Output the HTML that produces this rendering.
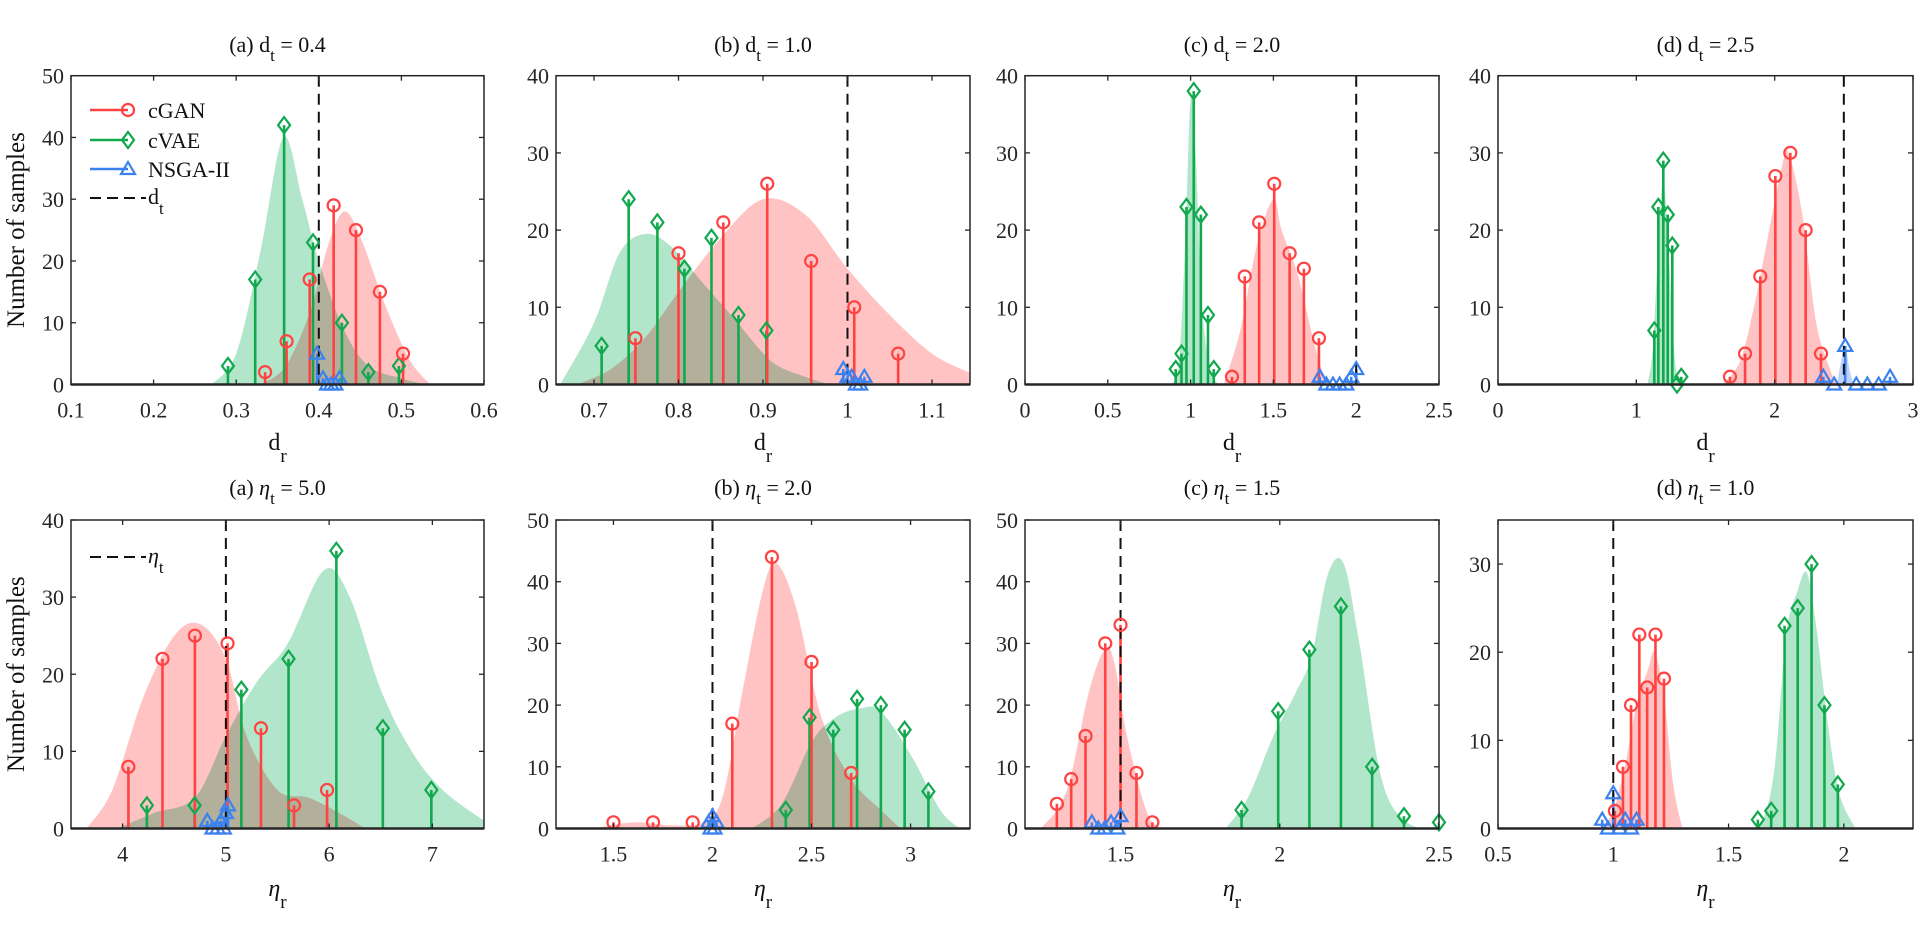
<!DOCTYPE html>
<html><head><meta charset="utf-8"><style>
html,body{margin:0;padding:0;background:#fff;}
svg{display:block;font-family:"Liberation Serif",serif;}
</style></head><body>
<svg id="fig" width="1926" height="935" viewBox="0 0 1926 935" xmlns="http://www.w3.org/2000/svg"></svg>
<script>
// ---------------- DATA ----------------
// Panel top-a (d_t = 0.4)
const ta_ganX=[0.335,0.361,0.389,0.418,0.445,0.474,0.502];
const ta_ganY=[2,7,17,29,25,15,5];
const ta_vaeX=[0.29,0.323,0.358,0.393,0.428,0.46,0.497];
const ta_vaeY=[3,17,42,23,10,2,3];
const ta_nsX=[0.398,0.405,0.41,0.415,0.42,0.425];
const ta_nsY=[5,1,0,0,0,1];
const ta_ganDX=[0.33,0.36,0.39,0.41,0.43,0.45,0.48,0.51,0.535];
const ta_ganDY=[0,3,12,22,28,24,13,4,0];
const ta_vaeDX=[0.27,0.30,0.33,0.357,0.38,0.40,0.43,0.46,0.50,0.53];
const ta_vaeDY=[0,5,22,40,30,20,9,3,1,0];
// Panel top-b (d_t = 1.0)
const tb_ganX=[0.749,0.80,0.853,0.905,0.957,1.008,1.06];
const tb_ganY=[6,17,21,26,16,10,4];
const tb_vaeX=[0.709,0.741,0.775,0.807,0.839,0.871,0.904];
const tb_vaeY=[5,24,21,15,19,9,7];
const tb_nsX=[0.995,1.0,1.005,1.01,1.015,1.02];
const tb_nsY=[2,1,1,0,0,1];
const tb_ganDX=[0.68,0.72,0.76,0.80,0.85,0.90,0.95,1.0,1.05,1.10,1.145];
const tb_ganDY=[0,2,6,12,19,24,22,15,9,4,1.5];
const tb_vaeDX=[0.66,0.70,0.73,0.76,0.79,0.83,0.87,0.91,0.95,0.98];
const tb_vaeDY=[0,8,17,19.5,18,13,8,3,1,0];
// Panel top-c (d_t = 2.0)
const tc_ganX=[1.25,1.327,1.414,1.505,1.598,1.684,1.775];
const tc_ganY=[1,14,21,26,17,15,6];
const tc_vaeX=[0.91,0.945,0.975,1.019,1.062,1.105,1.14];
const tc_vaeY=[2,4,23,38,22,9,2];
const tc_nsX=[1.78,1.82,1.86,1.9,1.94,1.97,2.0];
const tc_nsY=[1,0,0,0,0,1,2];
const tc_ganDX=[1.2,1.3,1.4,1.5,1.55,1.65,1.75,1.82];
const tc_ganDY=[0,7,18,24,20,14,5,0];
const tc_vaeDX=[0.88,0.93,0.97,1.0,1.03,1.07,1.12,1.17];
const tc_vaeDY=[0,3,20,37,30,10,2,0];
// Panel top-d (d_t = 2.5)
const td_ganX=[1.677,1.786,1.896,2.005,2.113,2.224,2.335];
const td_ganY=[1,4,14,27,30,20,4];
const td_vaeX=[1.13,1.159,1.195,1.227,1.26,1.294,1.325];
const td_vaeY=[7,23,29,22,18,0,1];
const td_nsX=[2.352,2.43,2.51,2.59,2.67,2.752,2.834];
const td_nsY=[1,0,5,0,0,0,1];
const td_ganDX=[1.62,1.75,1.85,1.95,2.05,2.1,2.2,2.3,2.4,2.45];
const td_ganDY=[0,3,10,19,28,30,22,8,2,0];
const td_vaeDX=[1.08,1.12,1.17,1.2,1.24,1.28,1.32];
const td_vaeDY=[0,5,22,26,15,3,0];
const td_nsDX=[2.45,2.48,2.51,2.54,2.57];
const td_nsDY=[0,3,5,2,0];
// Panel bottom-a (eta_t = 5.0)
const ba_ganX=[4.056,4.386,4.70,5.016,5.34,5.66,5.98];
const ba_ganY=[8,22,25,24,13,3,5];
const ba_vaeX=[4.235,4.697,5.15,5.607,6.07,6.52,6.99];
const ba_vaeY=[3,3,18,22,36,13,5];
const ba_nsX=[4.82,4.87,4.92,4.95,4.98,5.0,5.02];
const ba_nsY=[1,0,0,1,0,2,3];
const ba_ganDX=[3.65,3.9,4.2,4.5,4.75,5.0,5.2,5.5,5.8,6.1,6.35];
const ba_ganDY=[0,5,17,25,26.5,22,12,5,4,2,0];
const ba_vaeDX=[3.95,4.3,4.7,5.0,5.3,5.6,5.95,6.2,6.5,6.8,7.1,7.5];
const ba_vaeDY=[0,2,4,12,19,24,33.5,30,18,10,5,1];
// Panel bottom-b (eta_t = 2.0)
const bb_ganX=[1.5,1.7,1.9,2.1,2.3,2.5,2.7];
const bb_ganY=[1,1,1,17,44,27,9];
const bb_vaeX=[2.37,2.49,2.61,2.73,2.85,2.97,3.09];
const bb_vaeY=[3,18,16,21,20,16,6];
const bb_nsX=[1.98,1.99,2.0,2.01,2.02];
const bb_nsY=[1,0,2,0,1];
const bb_ganDX=[1.4,1.6,1.8,1.95,2.05,2.15,2.25,2.32,2.42,2.55,2.7,2.85,2.95];
const bb_ganDY=[0,1,0.5,1,5,22,38,43,36,18,8,3,0];
const bb_vaeDX=[2.2,2.35,2.5,2.62,2.75,2.85,3.0,3.15,3.25];
const bb_vaeDY=[0,4,14,18,19.5,19,12,3,0];
// Panel bottom-c (eta_t = 1.5)
const bc_ganX=[1.30,1.345,1.39,1.452,1.50,1.55,1.60];
const bc_ganY=[4,8,15,30,33,9,1];
const bc_vaeX=[1.88,1.995,2.093,2.192,2.29,2.39,2.5];
const bc_vaeY=[3,19,29,36,10,2,1];
const bc_nsX=[1.41,1.43,1.45,1.47,1.49,1.5];
const bc_nsY=[1,0,0,1,0,2];
const bc_ganDX=[1.25,1.33,1.4,1.45,1.48,1.52,1.58,1.62];
const bc_ganDY=[0,6,22,29,27,15,3,0];
const bc_vaeDX=[1.83,1.9,1.98,2.05,2.1,2.15,2.2,2.25,2.32,2.4,2.5];
const bc_vaeDY=[0,5,15,22,28,41,43,30,8,1,0];
// Panel bottom-d (eta_t = 1.0)
const bd_ganX=[1.007,1.042,1.077,1.113,1.147,1.183,1.22];
const bd_ganY=[2,7,14,22,16,22,17];
const bd_vaeX=[1.627,1.685,1.743,1.80,1.86,1.916,1.974];
const bd_vaeY=[1,2,23,25,30,14,5];
const bd_nsX=[0.952,0.977,1.0,1.027,1.052,1.077,1.101];
const bd_nsY=[1,0,4,0,1,0,1];
const bd_ganDX=[0.95,1.0,1.05,1.1,1.15,1.18,1.22,1.26,1.3];
const bd_ganDY=[0,2,7,14,18,20,15,5,0];
const bd_vaeDX=[1.6,1.65,1.7,1.75,1.8,1.84,1.88,1.93,1.98,2.05];
const bd_vaeDY=[0,1,7,22,27,29,23,12,4,0];
// Ticks
const ta_xt=[0.1,0.2,0.3,0.4,0.5,0.6], ta_xl=["0.1","0.2","0.3","0.4","0.5","0.6"];
const tb_xt=[0.7,0.8,0.9,1.0,1.1], tb_xl=["0.7","0.8","0.9","1","1.1"];
const tc_xt=[0,0.5,1,1.5,2,2.5], tc_xl=["0","0.5","1","1.5","2","2.5"];
const td_xt=[0,1,2,3], td_xl=["0","1","2","3"];
const ba_xt=[4,5,6,7], ba_xl=["4","5","6","7"];
const bb_xt=[1.5,2,2.5,3], bb_xl=["1.5","2","2.5","3"];
const bc_xt=[1.5,2,2.5], bc_xl=["1.5","2","2.5"];
const bd_xt=[0.5,1,1.5,2], bd_xl=["0.5","1","1.5","2"];
const y50=[0,10,20,30,40,50], y40=[0,10,20,30,40], y30=[0,10,20,30];
const targets=[0.4,1.0,2.0,2.5,5.0,2.0,1.5,1.0];
const titleVals=["0.4","1.0","2.0","2.5","5.0","2.0","1.5","1.0"];

// ---------------- RENDER ----------------
const NS="http://www.w3.org/2000/svg";
const svg=document.getElementById('fig');
function mk(tag,attrs,parent){const e=document.createElementNS(NS,tag);for(const k in attrs)e.setAttribute(k,attrs[k]);(parent||svg).appendChild(e);return e;}
const RED="#ff4242",GREEN="#12a84e",BLUE="#3b82f0";
const panels=[
 {id:"top-a",x0:71,x1:484,y0:75.7,y1:384.5,xmin:0.1,xmax:0.6,ymax:50,xt:ta_xt,xl:ta_xl,yt:y50,d:"ta",sym:"d",row:0,letter:"a"},
 {id:"top-b",x0:556,x1:970,y0:75.7,y1:384.5,xmin:0.655,xmax:1.145,ymax:40,xt:tb_xt,xl:tb_xl,yt:y40,d:"tb",sym:"d",row:0,letter:"b"},
 {id:"top-c",x0:1025,x1:1439,y0:75.7,y1:384.5,xmin:0,xmax:2.5,ymax:40,xt:tc_xt,xl:tc_xl,yt:y40,d:"tc",sym:"d",row:0,letter:"c"},
 {id:"top-d",x0:1498,x1:1913,y0:75.7,y1:384.5,xmin:0,xmax:3,ymax:40,xt:td_xt,xl:td_xl,yt:y40,d:"td",sym:"d",row:0,letter:"d"},
 {id:"bottom-a",x0:71,x1:484,y0:520,y1:828.5,xmin:3.5,xmax:7.5,ymax:40,xt:ba_xt,xl:ba_xl,yt:y40,d:"ba",sym:"eta",row:1,letter:"a"},
 {id:"bottom-b",x0:556,x1:970,y0:520,y1:828.5,xmin:1.21,xmax:3.3,ymax:50,xt:bb_xt,xl:bb_xl,yt:y50,d:"bb",sym:"eta",row:1,letter:"b"},
 {id:"bottom-c",x0:1025,x1:1439,y0:520,y1:828.5,xmin:1.2,xmax:2.5,ymax:50,xt:bc_xt,xl:bc_xl,yt:y50,d:"bc",sym:"eta",row:1,letter:"c"},
 {id:"bottom-d",x0:1498,x1:1913,y0:520,y1:828.5,xmin:0.5,xmax:2.3,ymax:35,xt:bd_xt,xl:bd_xl,yt:y30,d:"bd",sym:"eta",row:1,letter:"d"}
];
const DATA={
 ta:{gx:ta_ganX,gy:ta_ganY,vx:ta_vaeX,vy:ta_vaeY,nx:ta_nsX,ny:ta_nsY,gdx:ta_ganDX,gdy:ta_ganDY,vdx:ta_vaeDX,vdy:ta_vaeDY},
 tb:{gx:tb_ganX,gy:tb_ganY,vx:tb_vaeX,vy:tb_vaeY,nx:tb_nsX,ny:tb_nsY,gdx:tb_ganDX,gdy:tb_ganDY,vdx:tb_vaeDX,vdy:tb_vaeDY},
 tc:{gx:tc_ganX,gy:tc_ganY,vx:tc_vaeX,vy:tc_vaeY,nx:tc_nsX,ny:tc_nsY,gdx:tc_ganDX,gdy:tc_ganDY,vdx:tc_vaeDX,vdy:tc_vaeDY},
 td:{gx:td_ganX,gy:td_ganY,vx:td_vaeX,vy:td_vaeY,nx:td_nsX,ny:td_nsY,gdx:td_ganDX,gdy:td_ganDY,vdx:td_vaeDX,vdy:td_vaeDY,ndx:td_nsDX,ndy:td_nsDY},
 ba:{gx:ba_ganX,gy:ba_ganY,vx:ba_vaeX,vy:ba_vaeY,nx:ba_nsX,ny:ba_nsY,gdx:ba_ganDX,gdy:ba_ganDY,vdx:ba_vaeDX,vdy:ba_vaeDY},
 bb:{gx:bb_ganX,gy:bb_ganY,vx:bb_vaeX,vy:bb_vaeY,nx:bb_nsX,ny:bb_nsY,gdx:bb_ganDX,gdy:bb_ganDY,vdx:bb_vaeDX,vdy:bb_vaeDY},
 bc:{gx:bc_ganX,gy:bc_ganY,vx:bc_vaeX,vy:bc_vaeY,nx:bc_nsX,ny:bc_nsY,gdx:bc_ganDX,gdy:bc_ganDY,vdx:bc_vaeDX,vdy:bc_vaeDY},
 bd:{gx:bd_ganX,gy:bd_ganY,vx:bd_vaeX,vy:bd_vaeY,nx:bd_nsX,ny:bd_nsY,gdx:bd_ganDX,gdy:bd_ganDY,vdx:bd_vaeDX,vdy:bd_vaeDY}
};
function smoothPath(pts){
 let d="M"+pts[0][0]+","+pts[0][1];
 for(let i=0;i<pts.length-1;i++){
  const p0=pts[i-1]||pts[i],p1=pts[i],p2=pts[i+1],p3=pts[i+2]||p2;
  const c1=[p1[0]+(p2[0]-p0[0])/6,p1[1]+(p2[1]-p0[1])/6];
  const c2=[p2[0]-(p3[0]-p1[0])/6,p2[1]-(p3[1]-p1[1])/6];
  d+=" C"+c1[0]+","+c1[1]+" "+c2[0]+","+c2[1]+" "+p2[0]+","+p2[1];
 }
 return d;
}
function marker(kind,x,y,color,g){
 let e;
 if(kind==="o") e=mk('circle',{cx:x,cy:y,r:6,fill:"none",stroke:color,"stroke-width":2.2},g);
 else if(kind==="d") e=mk('path',{d:`M${x},${y-8} L${x+6},${y} L${x},${y+8} L${x-6},${y} Z`,fill:"none",stroke:color,"stroke-width":2.2},g);
 else e=mk('path',{d:`M${x},${y-7} L${x+7},${y+5} L${x-7},${y+5} Z`,fill:"none",stroke:color,"stroke-width":2.2},g);
 return e;
}
panels.forEach((p,pi)=>{
 const D=DATA[p.d];
 const sx=v=>p.x0+(v-p.xmin)/(p.xmax-p.xmin)*(p.x1-p.x0);
 const sy=v=>p.y1-v/p.ymax*(p.y1-p.y0);
 const g=mk('g',{});
 
 
 const cp='clip'+pi;
 const defs=mk('defs',{},g);
 mk('rect',{x:p.x0,y:p.y0,width:p.x1-p.x0,height:p.y1-p.y0},mk('clipPath',{id:cp},defs));
 const plot=mk('g',{"clip-path":`url(#${cp})`},g);
 function fillArea(xs,ys,color,name){
  const pts=xs.map((x,i)=>[sx(x),sy(ys[i])]);
  let d=smoothPath(pts)+` L${sx(xs[xs.length-1])},${p.y1} L${sx(xs[0])},${p.y1} Z`;
  const e=mk('path',{d:d,fill:color,style:"mix-blend-mode:multiply"},plot);
  
  
 }
 fillArea(D.gdx,D.gdy,"#ffc3c3","cgan-density-"+p.id);
 fillArea(D.vdx,D.vdy,"#b2e6cb","cvae-density-"+p.id);
 if(D.ndx) fillArea(D.ndx,D.ndy,"#bcd4fb","nsga-density-"+p.id);
 function stems(xs,ys,color,kind,name){
  xs.forEach((x,i)=>{
   const X=sx(x),Y=sy(ys[i]);
   const l=mk('line',{x1:X,y1:p.y1,x2:X,y2:Y,stroke:color,"stroke-width":2.6},plot);
   
   
   const m=marker(kind,X,Y,color,g);
   
   
  });
 }
 stems(D.vx,D.vy,GREEN,"d","cvae-"+p.id);
 stems(D.gx,D.gy,RED,"o","cgan-"+p.id);
 stems(D.nx,D.ny,BLUE,"t","nsga-"+p.id);
 const tl=mk('line',{x1:sx(targets[pi]),y1:p.y0,x2:sx(targets[pi]),y2:p.y1,stroke:"#111","stroke-width":2,"stroke-dasharray":"11,7"},plot);
 
 
 // axes box
 const box=mk('rect',{x:p.x0,y:p.y0,width:p.x1-p.x0,height:p.y1-p.y0,fill:"none",stroke:"#262626","stroke-width":1.5},g);
 
 
 mk('line',{x1:p.x0,y1:p.y1,x2:p.x1,y2:p.y1,stroke:"#262626","stroke-width":2.5},g);
 p.xt.forEach((t,i)=>{
  const X=sx(t);
  mk('line',{x1:X,y1:p.y1,x2:X,y2:p.y1-5,stroke:"#262626","stroke-width":1.3},g);
  mk('line',{x1:X,y1:p.y0,x2:X,y2:p.y0+5,stroke:"#262626","stroke-width":1.3},g);
  const tx=mk('text',{x:X,y:p.y1+33,"text-anchor":"middle","font-size":22,fill:"#262626"},g);
  tx.textContent=p.xl[i];
  
  
 });
 p.yt.forEach(t=>{
  const Y=sy(t);
  mk('line',{x1:p.x0,y1:Y,x2:p.x0+5,y2:Y,stroke:"#262626","stroke-width":1.3},g);
  mk('line',{x1:p.x1,y1:Y,x2:p.x1-5,y2:Y,stroke:"#262626","stroke-width":1.3},g);
  const ty=mk('text',{x:p.x0-7,y:Y+8,"text-anchor":"end","font-size":22,fill:"#262626"},g);
  ty.textContent=String(t);
  
  
 });
 // title
 const cx=(p.x0+p.x1)/2;
 const tb=p.row===0?52:495;
 const tt=mk('text',{x:cx,y:tb,"text-anchor":"middle","font-size":22,fill:"#111"},g);
 
 
 const s1=mk('tspan',{},tt); s1.textContent="("+p.letter+") ";
 const s2=mk('tspan',p.sym==="eta"?{"font-style":"italic"}:{},tt); s2.textContent=p.sym==="eta"?"η":"d";
 const s3=mk('tspan',{dy:9,"font-size":17},tt); s3.textContent="t";
 const s4=mk('tspan',{dy:-9},tt); s4.textContent=" = "+titleVals[pi];
 // x label
 const xb=p.row===0?450:896;
 const xl=mk('text',{x:cx,y:xb,"text-anchor":"middle","font-size":24,fill:"#111"},g);
 
 
 const a1=mk('tspan',p.sym==="eta"?{"font-style":"italic"}:{},xl); a1.textContent=p.sym==="eta"?"η":"d";
 const a2=mk('tspan',{dy:12,"font-size":19},xl); a2.textContent="r";
 if(p.letter==="a"){
  const cy=(p.y0+p.y1)/2;
  const yl=mk('text',{x:0,y:0,transform:`translate(24,${cy}) rotate(-90)`,"text-anchor":"middle","font-size":25,fill:"#111"},g);
  yl.textContent="Number of samples";
  
  
 }
});
// legends
const leg=mk('g',{});


const legItems=[["cGAN",RED,"o",110],["cVAE",GREEN,"d",140],["NSGA-II",BLUE,"t",169]];
legItems.forEach(it=>{
 const ln=mk('line',{x1:90,y1:it[3],x2:128,y2:it[3],stroke:it[1],"stroke-width":2.6},leg);
 
 
 marker(it[2],128,it[3],it[1],leg);
 const t=mk('text',{x:148,y:it[3]+8,"font-size":22,fill:"#111"},leg);
 t.textContent=it[0];
 
 
});
function dashLeg(y,sym,italic){
 mk('line',{x1:90,y1:y,x2:146,y2:y,stroke:"#111","stroke-width":2,"stroke-dasharray":"11,6"},leg);
 const t=mk('text',{x:148,y:y+6,"font-size":22,fill:"#111"},leg);
 
 
 const a=mk('tspan',italic?{"font-style":"italic"}:{},t); a.textContent=sym;
 const b=mk('tspan',{dy:10,"font-size":17},t); b.textContent="t";
}
dashLeg(198,"d",false);
dashLeg(557,"η",true);
</script>
</body></html>
